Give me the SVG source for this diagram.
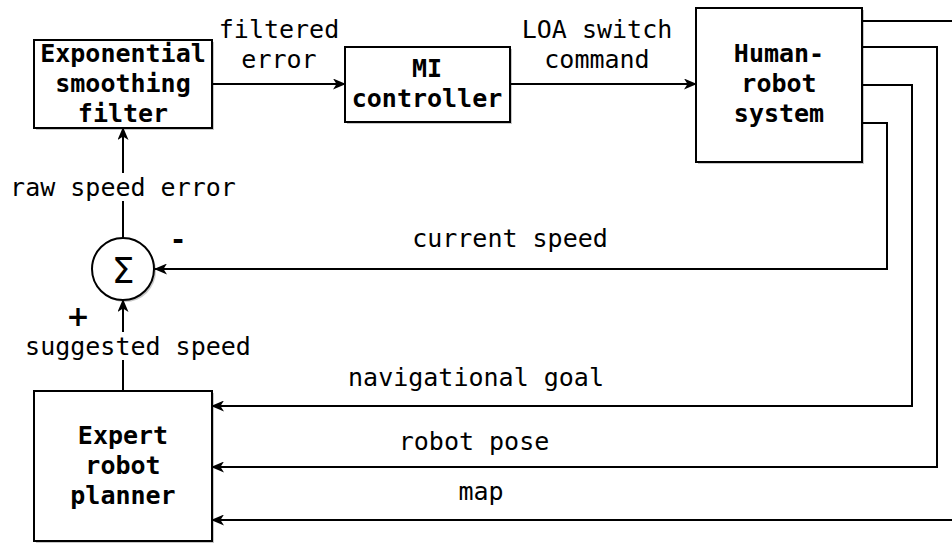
<svg xmlns="http://www.w3.org/2000/svg" width="952" height="543" viewBox="0 0 952 543">
<style>
.box{fill:#fff;stroke:#000;stroke-width:2}
.sh{fill:#000;opacity:0.22}
.t{font-family:"DejaVu Sans Mono",monospace;font-size:25px;fill:#000;text-anchor:middle}
.b{font-weight:bold}
.ln{fill:none;stroke:#000;stroke-width:2}
.arr{marker-end:url(#ah)}
.bg{fill:#fff}
</style>
<defs>
<marker id="ah" viewBox="0 0 13 11" refX="12" refY="5.5" markerWidth="13" markerHeight="11" markerUnits="userSpaceOnUse" orient="auto">
<path d="M0,0 L13,5.5 L0,11 L3.5,5.5 Z" fill="#000"/>
</marker>
</defs>
<rect width="952" height="543" fill="#fff"/>
<g id="connectors">
<path class="ln arr" d="M212,84 H345"/>
<path class="ln arr" d="M510,84 H696"/>
<path class="ln arr" d="M862,123 H887 V269 H155"/>
<path class="ln arr" d="M862,85 H912 V406 H212"/>
<path class="ln arr" d="M862,47 H937 V467 H212"/>
<path class="ln arr" d="M862,21 H960 V520 H212"/>
<path class="ln arr" d="M123,238 V128"/>
<path class="ln arr" d="M123,391 V300"/>
<rect class="bg" x="9" y="173" width="230" height="28"/>
<rect class="bg" x="23" y="332" width="231" height="28"/>
<text class="t" x="123" y="196">raw speed error</text>
<text class="t" x="138" y="355">suggested speed</text>
<text class="t" x="279" y="38">filtered</text>
<text class="t" x="279" y="68">error</text>
<text class="t" x="597" y="38">LOA switch</text>
<text class="t" x="597" y="68">command</text>
<text class="t" x="510" y="247">current speed</text>
<text class="t" x="476" y="386">navigational goal</text>
<text class="t" x="474" y="450">robot pose</text>
<text class="t" x="481" y="500">map</text>
</g>
<g id="exp-filter">
<rect class="sh" x="36" y="42" width="178" height="88"/>
<rect class="box" x="34" y="40" width="178" height="88"/>
<text class="t b" x="123" y="62">Exponential</text>
<text class="t b" x="123" y="92">smoothing</text>
<text class="t b" x="123" y="122">filter</text>
</g>
<g id="mi-controller">
<rect class="sh" x="347" y="49" width="165" height="75"/>
<rect class="box" x="345" y="47" width="165" height="75"/>
<text class="t b" x="427" y="77">MI</text>
<text class="t b" x="427" y="107">controller</text>
</g>
<g id="human-robot">
<rect class="sh" x="698" y="10" width="166" height="154"/>
<rect class="box" x="696" y="8" width="166" height="154"/>
<text class="t b" x="779" y="62">Human-</text>
<text class="t b" x="779" y="92">robot</text>
<text class="t b" x="779" y="122">system</text>
</g>
<g id="sum">
<circle cx="125" cy="271" r="31" fill="#000" opacity="0.22"/>
<circle cx="123" cy="269" r="31" class="box"/>
<text x="123" y="283" style="font-family:'DejaVu Sans',sans-serif;font-size:36px;text-anchor:middle">Σ</text>
<text x="178" y="249" style="font-family:'DejaVu Sans',sans-serif;font-size:28px;font-weight:bold;text-anchor:middle">-</text>
<text x="78" y="326" style="font-family:'DejaVu Sans',sans-serif;font-size:28px;font-weight:bold;text-anchor:middle">+</text>
</g>
<g id="expert-planner">
<rect class="sh" x="36" y="393" width="178" height="150"/>
<rect class="box" x="34" y="391" width="178" height="150"/>
<text class="t b" x="123" y="444">Expert</text>
<text class="t b" x="123" y="474">robot</text>
<text class="t b" x="123" y="504">planner</text>
</g>
</svg>
